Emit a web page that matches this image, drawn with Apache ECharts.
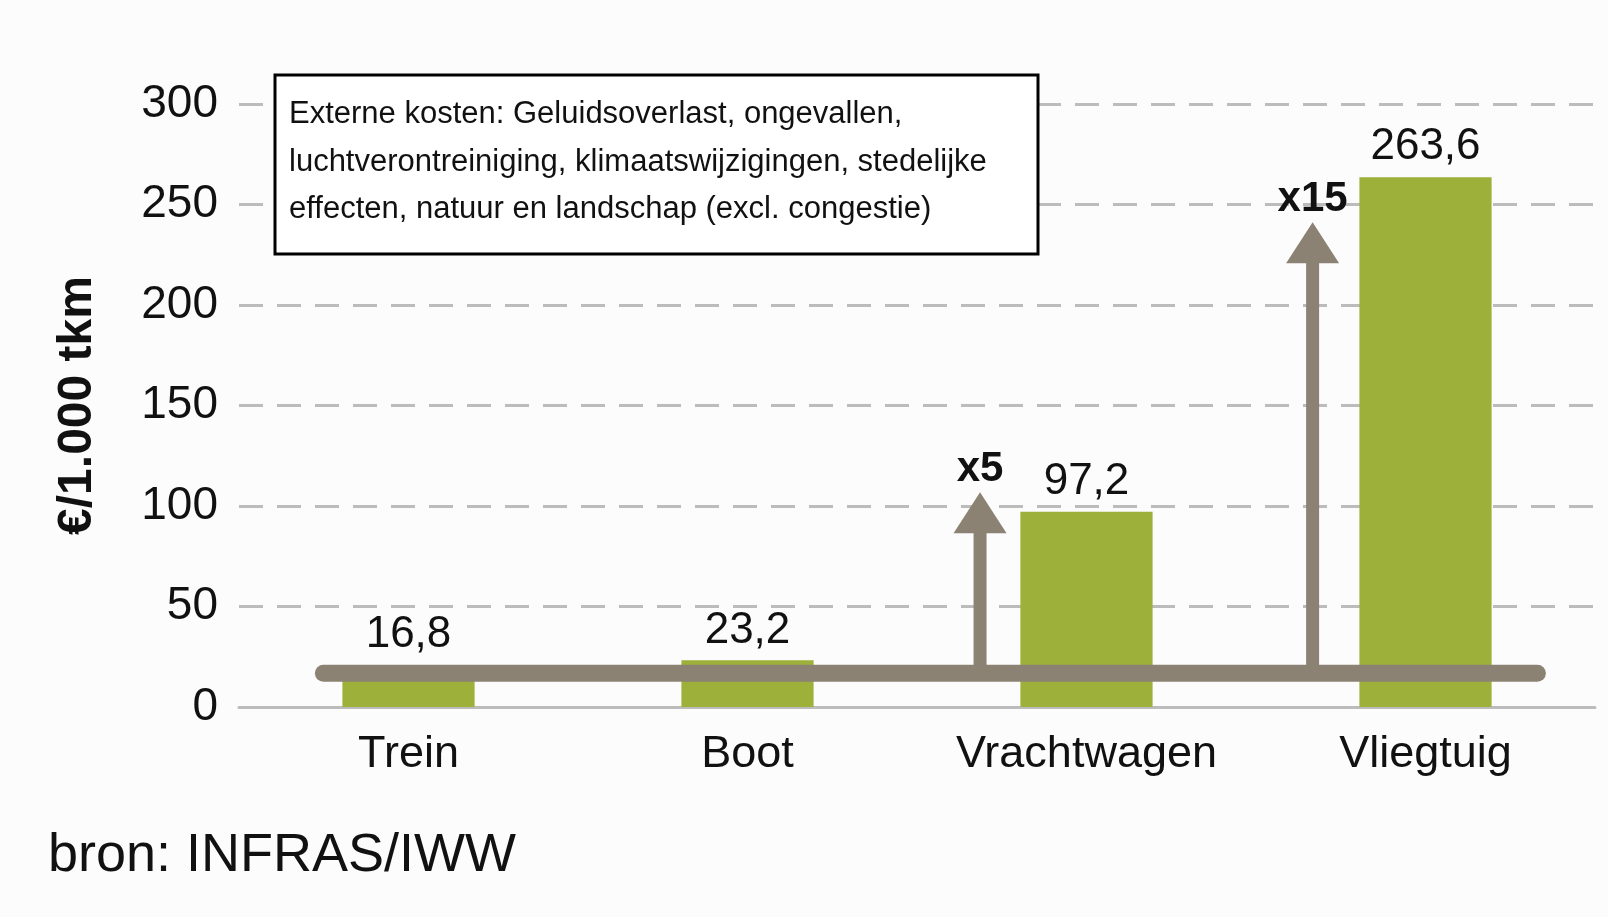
<!DOCTYPE html>
<html>
<head>
<meta charset="utf-8">
<script src="https://cdn.jsdelivr.net/npm/echarts@6/dist/echarts.min.js"></script>
<style>
  html, body { margin: 0; padding: 0; background: #fcfcfc; }
  #chart { width: 1608px; height: 917px; }
</style>
</head>
<body>
<div id="chart"></div>
<script>
// data
const categories = ["Trein", "Boot", "Vrachtwagen", "Vliegtuig"];
const costs = [16.8, 23.2, 97.2, 263.6];
const yTicks = [0, 50, 100, 150, 200, 250, 300];
// the two "times train" arrows: where they stand (category slot) and where the head sits
const factorNames = ["x5", "x15"];
const arrowSlot = [1.686, 2.667];
const arrowHead = [96.6, 231];
const noteLines = [
  "Externe kosten: Geluidsoverlast, ongevallen,",
  "luchtverontreiniging, klimaatswijzigingen, stedelijke",
  "effecten, natuur en landschap (excl. congestie)"
];
const source = "bron: INFRAS/IWW";

const font = "Liberation Sans, Arial, sans-serif";
const green = "#9db03a";
const brown = "#8c8273";
const grey = "#bcbcbc";

const trainLevel = costs[0];

let chart = echarts.init(document.getElementById("chart"));

let arrowSeries = arrowSlot.map(function (x, i) {
  return {
    type: "line",
    xAxisIndex: 1,
    symbol: "none",
    silent: true,
    z: 4,
    lineStyle: { color: brown, width: 13, cap: "butt" },
    data: [[x, trainLevel], [x, arrowHead[i]]]
  };
});

let option = {
  backgroundColor: "#fcfcfc",
  animation: false,
  grid: { left: 239, right: 13, top: 104, bottom: 210 },
  xAxis: [
    {
      type: "category",
      data: categories,
      axisTick: { show: false },
      axisLine: { lineStyle: { color: grey, width: 3 } },
      axisLabel: { color: "#111", fontFamily: font, fontSize: 45, margin: 25, interval: 0 }
    },
    { type: "value", min: -0.5, max: 3.5, show: false }
  ],
  yAxis: {
    type: "value",
    min: yTicks[0],
    max: yTicks[yTicks.length - 1],
    interval: 50,
    name: "€/1.000 tkm",
    nameLocation: "middle",
    nameRotate: 90,
    nameGap: 137,
    nameTextStyle: { color: "#111", fontFamily: font, fontSize: 48, fontWeight: "bold" },
    axisLine: { show: false },
    axisTick: { show: false },
    axisLabel: { color: "#111", fontFamily: font, fontSize: 46, margin: 21 },
    splitLine: { lineStyle: { color: grey, width: 3, type: [24, 14] } }
  },
  series: [
    {
      type: "bar",
      barWidth: "39%",
      itemStyle: { color: green },
      z: 2,
      silent: true,
      label: {
        show: true,
        position: "top",
        distance: 8,
        color: "#111",
        fontFamily: font,
        fontSize: 44,
        formatter: function (p) { return String(p.value).replace(".", ","); }
      },
      data: costs.map(function (v, i) {
        return i === 0 ? { value: v, label: { distance: 16 } } : v;
      })
    },
    {
      type: "line",
      xAxisIndex: 1,
      symbol: "none",
      silent: true,
      z: 5,
      lineStyle: { color: brown, width: 17, cap: "round" },
      data: [[-0.251, trainLevel], [3.33, trainLevel]]
    }
  ].concat(arrowSeries).concat([
    {
      type: "scatter",
      xAxisIndex: 1,
      symbol: "triangle",
      symbolSize: [53, 41],
      silent: true,
      itemStyle: { color: brown, opacity: 1 },
      z: 5,
      label: {
        show: true,
        position: "top",
        distance: 2,
        color: "#111",
        fontFamily: font,
        fontSize: 42,
        fontWeight: "bold",
        formatter: function (p) { return factorNames[p.dataIndex]; }
      },
      data: arrowSlot.map(function (x, i) { return [x, arrowHead[i]]; })
    }
  ]),
  graphic: [
    {
      type: "rect",
      shape: { x: 275, y: 75, width: 763, height: 179 },
      style: { fill: "#ffffff", stroke: "#000", lineWidth: 3 },
      z: 10
    },
    {
      type: "text",
      x: 289,
      y: 91,
      z: 11,
      style: {
        text: noteLines.join("\n"),
        font: "31px " + font,
        lineHeight: 47.5,
        fill: "#111",
        verticalAlign: "top"
      }
    },
    {
      type: "text",
      x: 48,
      y: 856,
      style: {
        text: source,
        font: "54px " + font,
        fill: "#111",
        verticalAlign: "middle"
      }
    }
  ]
};

chart.setOption(option);
</script>
</body>
</html>
